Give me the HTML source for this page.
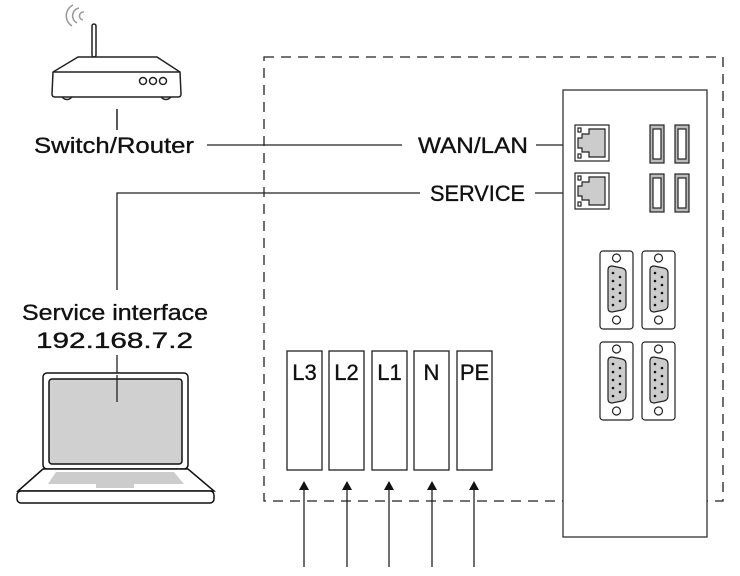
<!DOCTYPE html>
<html><head><style>
body{margin:0;background:#fff;}
svg{display:block;}
text{font-family:"Liberation Sans",sans-serif;fill:#111;stroke:#111;stroke-width:0.35;}
</style></head><body>
<svg width="740" height="576" viewBox="0 0 740 576" xmlns="http://www.w3.org/2000/svg">
<rect x="264" y="57" width="459" height="444" fill="none" stroke="#222" stroke-width="1.3" stroke-dasharray="10,7"/>
<g stroke="#222" stroke-width="1.5" fill="none">
<path d="M73,5 A12,12 0 0 0 72,26" stroke="#999"/>
<path d="M79,8 A8,8 0 0 0 77,23" stroke="#999"/>
<path d="M84,12 A4,4 0 0 0 83,20" stroke="#999"/>
<rect x="92" y="24" width="4" height="33" rx="2" fill="#fff"/>
<path d="M78,57 L157,57 L180,72 L181,94 Q181,97 178,97 L55,97 Q52,97 52,94 L53,72 Z" fill="#fff"/>
<line x1="53" y1="72" x2="180" y2="72"/>
<circle cx="143" cy="81" r="3.5"/><circle cx="153" cy="81" r="3.5"/><circle cx="163" cy="81" r="3.5"/>
<path d="M62,97 Q67,102 72,97 M161,97 Q166,102 171,97"/>
<line x1="117" y1="109" x2="117" y2="130"/>
</g>
<text x="34" y="153" font-size="22" textLength="160" lengthAdjust="spacingAndGlyphs">Switch/Router</text>
<g stroke="#222" stroke-width="1.3">
<line x1="207" y1="145" x2="402" y2="145"/>
<line x1="536" y1="145" x2="575" y2="145"/>
<polyline points="420,193 117,193 117,290" fill="none"/>
<line x1="535" y1="193" x2="575" y2="193"/>
<line x1="117" y1="355" x2="117" y2="402"/>
</g>
<text x="418" y="153" font-size="22" textLength="110" lengthAdjust="spacingAndGlyphs">WAN/LAN</text>
<text x="430" y="201" font-size="22" textLength="95" lengthAdjust="spacingAndGlyphs">SERVICE</text>
<text x="22" y="320" font-size="22" textLength="186" lengthAdjust="spacingAndGlyphs">Service interface</text>
<text x="36" y="348" font-size="22" textLength="157" lengthAdjust="spacingAndGlyphs">192.168.7.2</text>
<g stroke="#111" stroke-width="1.5">
<rect x="43" y="373" width="145" height="96" rx="4" fill="#fff"/>
<rect x="49" y="379" width="133" height="85" rx="3" fill="#d0d0d0"/>
<path d="M43,469 L18,491 L214,491 L188,469 Z" fill="#fff"/>
<rect x="17" y="491" width="197" height="12" rx="4" fill="#fff"/>
</g>
<line x1="117" y1="375" x2="117" y2="402" stroke="#222" stroke-width="1.3"/>
<path d="M56,472 L174,472 L184,484 L48,484 Z" fill="#ccc"/>
<rect x="96" y="484" width="38" height="4" fill="#ccc"/>
<rect x="563" y="90" width="144" height="447" fill="#fff" stroke="#333" stroke-width="1.3"/>
<g stroke="#222" stroke-width="1.2">
<rect x="575" y="125" width="34" height="36" fill="#fff"/>
<path d="M589,129 L605,129 L605,157 L589,157 L589,152 L582,152 L582,148 L578,148 L578,138 L582,138 L582,134 L589,134 Z" fill="#ccc"/>
<rect x="578" y="128" width="3" height="4" fill="#fff"/><rect x="578" y="154" width="3" height="4" fill="#fff"/>
<rect x="575" y="173" width="34" height="36" fill="#fff"/>
<path d="M589,177 L605,177 L605,205 L589,205 L589,200 L582,200 L582,196 L578,196 L578,186 L582,186 L582,182 L589,182 Z" fill="#ccc"/>
<rect x="578" y="176" width="3" height="4" fill="#fff"/><rect x="578" y="202" width="3" height="4" fill="#fff"/>
<rect x="650" y="125" width="14" height="38" fill="#bbb"/><rect x="653" y="129" width="8" height="30" fill="#fff"/>
<rect x="675" y="125" width="14" height="38" fill="#bbb"/><rect x="678" y="129" width="8" height="30" fill="#fff"/>
<rect x="650" y="174" width="14" height="38" fill="#bbb"/><rect x="653" y="178" width="8" height="30" fill="#fff"/>
<rect x="675" y="174" width="14" height="38" fill="#bbb"/><rect x="678" y="178" width="8" height="30" fill="#fff"/>
</g>
<g id="db" stroke="#222" stroke-width="1.2">
<rect x="600" y="251" width="33" height="78" rx="3" fill="#fff"/>
<circle cx="616.5" cy="258" r="4" fill="#fff"/><circle cx="616.5" cy="320" r="4" fill="#fff"/>
<path d="M608,270 Q608,266 612,266 L622,268 Q626,269 626,273 L626,305 Q626,309 622,310 L612,312 Q608,312 608,308 Z" fill="#ccc"/>
</g>
<use href="#db" x="42"/><use href="#db" y="91"/><use href="#db" x="42" y="91"/>
<g fill="#111">
<circle cx="613" cy="273" r="1.3"/><circle cx="613" cy="281" r="1.3"/><circle cx="613" cy="289" r="1.3"/><circle cx="613" cy="297" r="1.3"/><circle cx="613" cy="305" r="1.3"/>
<circle cx="620" cy="277" r="1.3"/><circle cx="620" cy="285" r="1.3"/><circle cx="620" cy="293" r="1.3"/><circle cx="620" cy="301" r="1.3"/>
<circle cx="655" cy="273" r="1.3"/><circle cx="655" cy="281" r="1.3"/><circle cx="655" cy="289" r="1.3"/><circle cx="655" cy="297" r="1.3"/><circle cx="655" cy="305" r="1.3"/>
<circle cx="662" cy="277" r="1.3"/><circle cx="662" cy="285" r="1.3"/><circle cx="662" cy="293" r="1.3"/><circle cx="662" cy="301" r="1.3"/>
<circle cx="613" cy="364" r="1.3"/><circle cx="613" cy="372" r="1.3"/><circle cx="613" cy="380" r="1.3"/><circle cx="613" cy="388" r="1.3"/><circle cx="613" cy="396" r="1.3"/>
<circle cx="620" cy="368" r="1.3"/><circle cx="620" cy="376" r="1.3"/><circle cx="620" cy="384" r="1.3"/><circle cx="620" cy="392" r="1.3"/>
<circle cx="655" cy="364" r="1.3"/><circle cx="655" cy="372" r="1.3"/><circle cx="655" cy="380" r="1.3"/><circle cx="655" cy="388" r="1.3"/><circle cx="655" cy="396" r="1.3"/>
<circle cx="662" cy="368" r="1.3"/><circle cx="662" cy="376" r="1.3"/><circle cx="662" cy="384" r="1.3"/><circle cx="662" cy="392" r="1.3"/>
</g>
<g stroke="#222" stroke-width="1.3" fill="#fff">
<rect x="287" y="351" width="35" height="119"/>
<rect x="329" y="351" width="35" height="119"/>
<rect x="372" y="351" width="35" height="119"/>
<rect x="414" y="351" width="35" height="119"/>
<rect x="457" y="351" width="35" height="119"/>
</g>
<g font-size="22" text-anchor="middle">
<text x="304.5" y="380">L3</text><text x="346.5" y="380">L2</text><text x="389.5" y="380">L1</text><text x="431.5" y="380">N</text><text x="474.5" y="380">PE</text>
</g>
<g stroke="#222" stroke-width="1.3">
<line x1="304" y1="567" x2="304" y2="488"/>
<line x1="347" y1="567" x2="347" y2="488"/>
<line x1="389" y1="567" x2="389" y2="488"/>
<line x1="432" y1="567" x2="432" y2="488"/>
<line x1="474" y1="567" x2="474" y2="488"/>
</g>
<g fill="#111">
<path d="M304,481 L299,490 L309,490 Z"/>
<path d="M347,481 L342,490 L352,490 Z"/>
<path d="M389,481 L384,490 L394,490 Z"/>
<path d="M432,481 L427,490 L437,490 Z"/>
<path d="M474,481 L469,490 L479,490 Z"/>
</g>
</svg>
</body></html>
